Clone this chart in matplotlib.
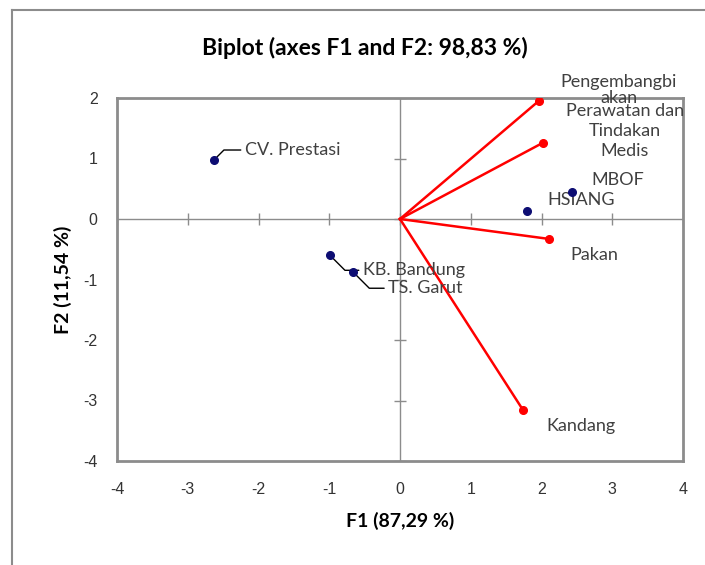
import matplotlib
matplotlib.use("Agg")
import matplotlib.pyplot as plt
from matplotlib.lines import Line2D

# Observations (F1, F2)
obs_names = ["CV. Prestasi", "KB. Bandung", "TS. Garut", "HSIANG", "MBOF"]
obs_x = [-2.63, -0.99, -0.66, 1.80, 2.43]
obs_y = [0.975, -0.60, -0.88, 0.13, 0.45]

# Variables (F1, F2)
var_names = ["Pengembangbi\nakan", "Perawatan dan\nTindakan\nMedis", "Pakan", "Kandang"]
var_x = [1.96, 2.02, 2.11, 1.74]
var_y = [1.95, 1.26, -0.33, -3.16]

xticks = [-4, -3, -2, -1, 0, 1, 2, 3, 4]
yticks = [-4, -3, -2, -1, 0, 1, 2]

title = "Biplot (axes F1 and F2: 98,83 %)"
xlabel = "F1 (87,29 %)"
ylabel = "F2 (11,54 %)"

FONT = ["Lato", "DejaVu Sans"]
plt.rcParams['font.family'] = ["Liberation Sans", "DejaVu Sans"]
plt.rcParams['axes.unicode_minus'] = False

fig = plt.figure(figsize=(7.05, 5.65), dpi=100)
ax = fig.add_axes([117/705, 1-461/565, 566/705, 363/565])
ax.set_xlim(-4, 4)
ax.set_ylim(-4, 2)

for s in ax.spines.values():
    s.set_color("#8c8c8c")
    s.set_linewidth(2)

ax.set_xticks(xticks)
ax.set_yticks(yticks)
ax.tick_params(length=0, labelsize=11.5, colors="#000000", pad=15)
ax.tick_params(axis='y', pad=14)
for lbl in ax.get_xticklabels() + ax.get_yticklabels():
    lbl.set_color("#333333")

# center axes
ax.axhline(0, color="#8c8c8c", lw=1, zorder=1)
ax.axvline(0, color="#8c8c8c", lw=1, zorder=1)
ax.plot(xticks, [0]*len(xticks), ls="none", marker="|", ms=9, mew=1, color="#8c8c8c", zorder=1)
ax.plot([0]*len(yticks), yticks, ls="none", marker="_", ms=9, mew=1, color="#8c8c8c", zorder=1)

# variable vectors
for vx, vy in zip(var_x, var_y):
    ax.plot([0, vx], [0, vy], color="#ff0000", lw=1.8, zorder=3)
ax.plot(var_x, var_y, ls="none", marker="o", ms=5.5, color="#ff0000", zorder=4)

# observations
ax.plot(obs_x, obs_y, ls="none", marker="o", ms=5.5, color="#0d0d73", zorder=4)

lblkw = dict(fontsize=13, color="#404040", family=FONT)

offs = {
    "CV. Prestasi": (31, 10),
    "KB. Bandung": (33, -15),
    "TS. Garut": (35, -16),
}
for name, x, y in zip(obs_names, obs_x, obs_y):
    if name in offs:
        dx, dy = offs[name]
        cs = "angle,angleA=0,angleB=45,rad=0" if dy > 0 else "angle,angleA=0,angleB=-45,rad=0"
        ax.annotate(name, xy=(x, y), xytext=(dx, dy), textcoords="offset pixels",
                    ha="left", va="center",
                    arrowprops=dict(arrowstyle="-", color="#000000", lw=1, shrinkA=1, shrinkB=3,
                                    connectionstyle=cs),
                    **lblkw)
ax.annotate("HSIANG", xy=(obs_x[3], obs_y[3]), xytext=(20, 11), textcoords="offset pixels",
            ha="left", va="center", **lblkw)
ax.annotate("MBOF", xy=(obs_x[4], obs_y[4]), xytext=(46, 12), textcoords="offset pixels",
            ha="center", va="center", **lblkw)

# variable labels
ax.annotate(var_names[0], xy=(var_x[0], var_y[0]), xytext=(80, 11), textcoords="offset pixels",
            ha="center", va="center", linespacing=0.95, annotation_clip=False, **lblkw)
ax.annotate(var_names[1], xy=(var_x[1], var_y[1]), xytext=(82, 12), textcoords="offset pixels",
            ha="center", va="center", linespacing=1.3, annotation_clip=False, **lblkw)
ax.annotate(var_names[2], xy=(var_x[2], var_y[2]), xytext=(45, -16), textcoords="offset pixels",
            ha="center", va="center", **lblkw)
ax.annotate(var_names[3], xy=(var_x[3], var_y[3]), xytext=(58, -16), textcoords="offset pixels",
            ha="center", va="center", **lblkw)

ax.set_xlabel(xlabel, fontsize=14, fontweight="bold", family=FONT, labelpad=11)
ax.set_ylabel(ylabel, fontsize=14, fontweight="bold", family=FONT, labelpad=8)
fig.text(365/705, 1-48/565, title, ha="center", va="center", fontsize=16.5,
         fontweight="bold", family=FONT)

# outer chart border (top & left)
fig.add_artist(Line2D([12/705, 12/705], [0, 1-10/565], transform=fig.transFigure,
                      color="#8c8c8c", lw=1.5))
fig.add_artist(Line2D([12/705, 1], [1-10/565, 1-10/565], transform=fig.transFigure,
                      color="#8c8c8c", lw=1.5))

fig.savefig("out.png", dpi=100)
